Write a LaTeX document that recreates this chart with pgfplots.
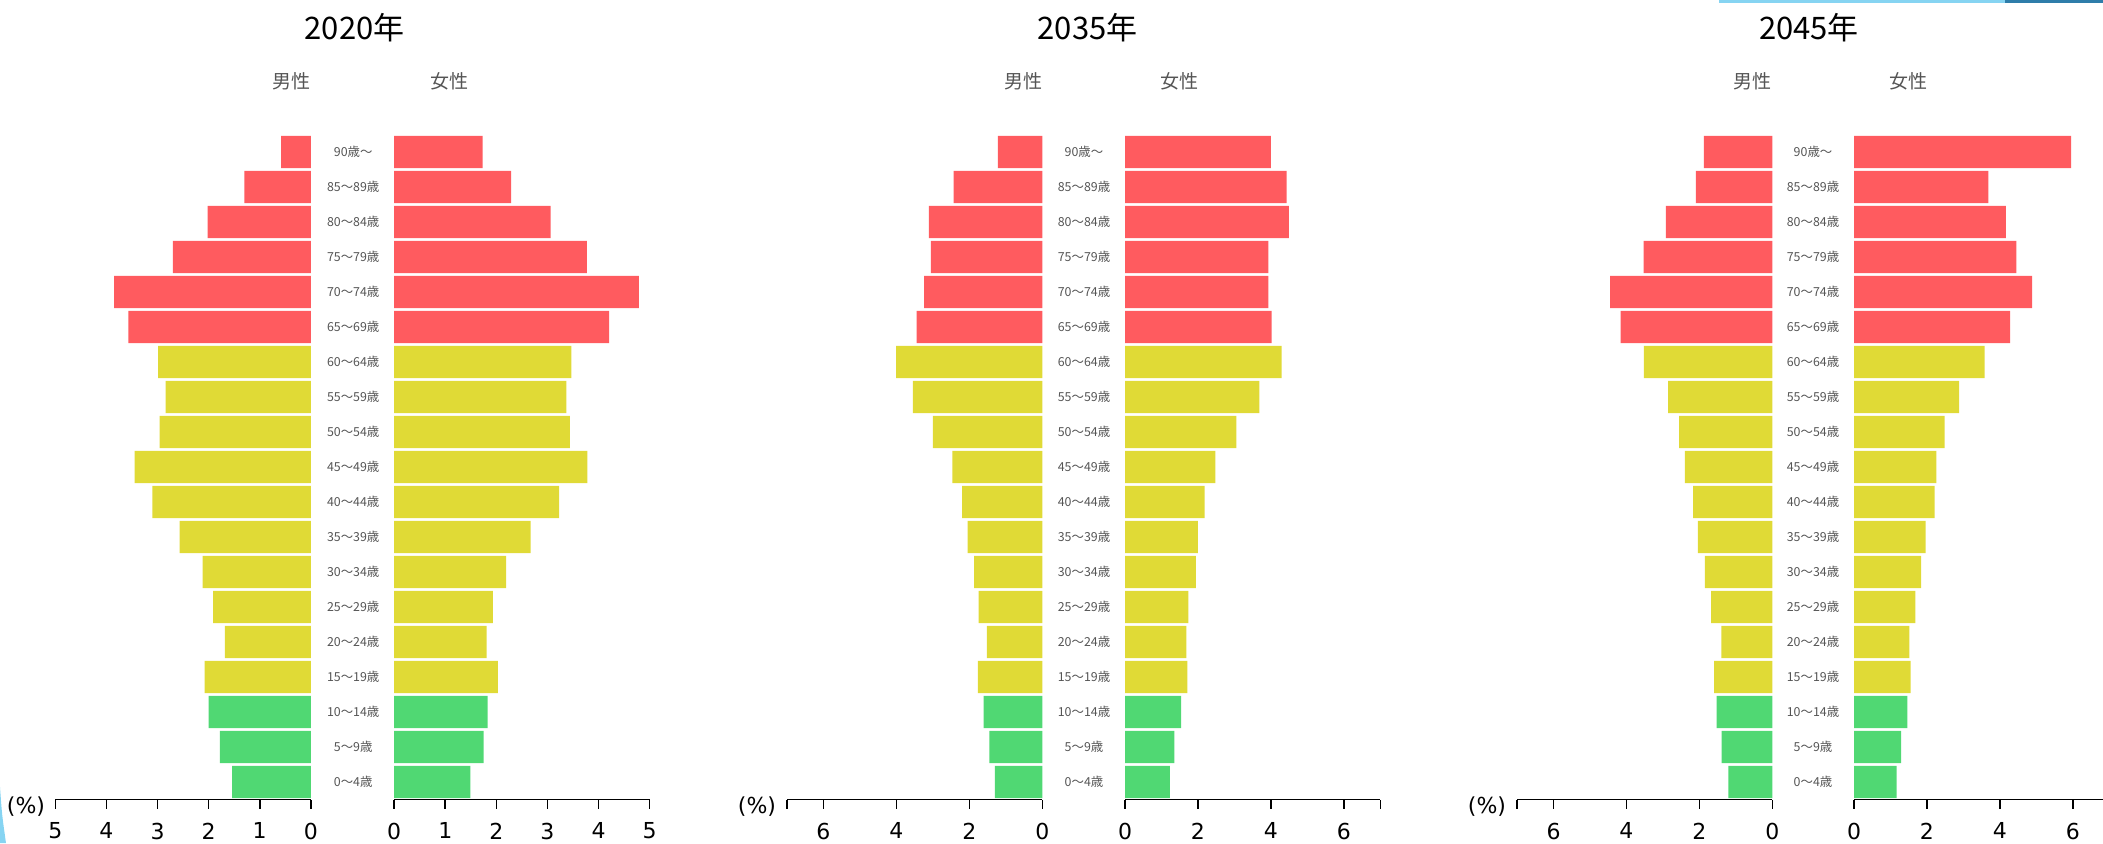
\documentclass[border=0pt]{standalone}
\usepackage{fontspec}
\setmainfont{DejaVu Sans}
\newfontfamily\jp{Noto Sans CJK JP}
\usepackage{pgfplots}
\pgfplotsset{compat=1.18}
\usepackage{pgfplotstable}

\definecolor{old}{HTML}{FF5B5F}
\definecolor{work}{HTML}{E0DA36}
\definecolor{young}{HTML}{50D873}
\definecolor{lab}{HTML}{555555}
\definecolor{skyA}{HTML}{86D4F2}
\definecolor{skyB}{HTML}{2E7DAA}

% share of total population (%) by age group; idx 0 = 0-4, 18 = 90+
\pgfplotstableread{
idx m20  f20  m35  f35  m45  f45
0   1.54 1.49 1.30 1.23 1.21 1.17
1   1.78 1.75 1.45 1.35 1.39 1.29
2   2.00 1.83 1.61 1.54 1.53 1.46
}\young
\pgfplotstableread{
idx m20  f20  m35  f35  m45  f45
3   2.08 2.03 1.77 1.71 1.60 1.55
4   1.68 1.81 1.52 1.68 1.40 1.52
5   1.91 1.93 1.75 1.74 1.68 1.68
6   2.12 2.19 1.87 1.94 1.85 1.84
7   2.57 2.67 2.05 2.00 2.04 1.96
8   3.10 3.23 2.20 2.18 2.17 2.21
9   3.45 3.78 2.47 2.48 2.40 2.26
10  2.96 3.44 3.00 3.05 2.56 2.48
11  2.84 3.37 3.55 3.68 2.86 2.88
12  2.99 3.47 4.01 4.29 3.52 3.58
}\work
\pgfplotstableread{
idx m20  f20  m35  f35  m45  f45
13  3.57 4.21 3.45 4.02 4.16 4.28
14  3.85 4.79 3.24 3.93 4.45 4.88
15  2.70 3.77 3.06 3.93 3.53 4.45
16  2.02 3.06 3.11 4.49 2.92 4.16
17  1.30 2.29 2.43 4.43 2.10 3.68
18  0.58 1.73 1.22 4.00 1.88 5.95
}\old

\pgfplotsset{
  pyr/.style={
    scale only axis, width=127.7pt, height=332.5pt,
    anchor=south west,
    xbar, bar width=16.15pt,
    ymin=-0.5, ymax=18.5, xmin=0,
    axis x line*=bottom,
    x axis line style={line width=0.8pt,-},
    major tick length=4.5pt, tick align=outside,
    xtick style={line width=0.8pt, black},
    /pgf/number format/assume math mode=true,
    xticklabel style={font=\fontsize{11}{11}\selectfont, text=black, inner sep=0pt, anchor=north, yshift=-7pt},
    clip=false,
  },
  side/.style={axis y line=none, ytick=\empty},
  ages/.style={
    axis y line*=left, y axis line style={draw=none},
    ytick={0,...,18}, ytick style={draw=none},
    yticklabels={0～4歳,5～9歳,10～14歳,15～19歳,20～24歳,25～29歳,30～34歳,35～39歳,40～44歳,45～49歳,50～54歳,55～59歳,60～64歳,65～69歳,70～74歳,75～79歳,80～84歳,85～89歳,90歳～},
    yticklabel style={anchor=center, xshift=-16pt, font=\jp\fontsize{6.2}{6.2}\selectfont, text=lab},
  },
  bars/.style={draw=none, bar shift=0pt},
}

\begin{document}
\begin{tikzpicture}
% ---- 2020 ----
\begin{axis}[pyr, side, at={(27.7pt,21.75pt)}, x dir=reverse, xmax=5, xtick={0,...,5}]
  \addplot[bars, fill=young] table[x=m20,y=idx]{\young};
  \addplot[bars, fill=work]  table[x=m20,y=idx]{\work};
  \addplot[bars, fill=old]   table[x=m20,y=idx]{\old};
\end{axis}
\begin{axis}[pyr, ages, at={(197.1pt,21.75pt)}, xmax=5, xtick={0,...,5}]
  \addplot[bars, fill=young] table[x=f20,y=idx]{\young};
  \addplot[bars, fill=work]  table[x=f20,y=idx]{\work};
  \addplot[bars, fill=old]   table[x=f20,y=idx]{\old};
\end{axis}
% ---- 2035 ----
\begin{axis}[pyr, side, at={(393.5pt,21.75pt)}, x dir=reverse, xmax=7, xtick={0,2,4,6,7}, xticklabels={0,2,4,6,{}}]
  \addplot[bars, fill=young] table[x=m35,y=idx]{\young};
  \addplot[bars, fill=work]  table[x=m35,y=idx]{\work};
  \addplot[bars, fill=old]   table[x=m35,y=idx]{\old};
\end{axis}
\begin{axis}[pyr, ages, at={(562.5pt,21.75pt)}, xmax=7, xtick={0,2,4,6,7}, xticklabels={0,2,4,6,{}}]
  \addplot[bars, fill=young] table[x=f35,y=idx]{\young};
  \addplot[bars, fill=work]  table[x=f35,y=idx]{\work};
  \addplot[bars, fill=old]   table[x=f35,y=idx]{\old};
\end{axis}
% ---- 2045 ----
\begin{axis}[pyr, side, at={(758.5pt,21.75pt)}, x dir=reverse, xmax=7, xtick={0,2,4,6,7}, xticklabels={0,2,4,6,{}}]
  \addplot[bars, fill=young] table[x=m45,y=idx]{\young};
  \addplot[bars, fill=work]  table[x=m45,y=idx]{\work};
  \addplot[bars, fill=old]   table[x=m45,y=idx]{\old};
\end{axis}
\begin{axis}[pyr, ages, at={(927pt,21.75pt)}, xmax=7, xtick={0,2,4,6,7}, xticklabels={0,2,4,6,{}}]
  \addplot[bars, fill=young] table[x=f45,y=idx]{\young};
  \addplot[bars, fill=work]  table[x=f45,y=idx]{\work};
  \addplot[bars, fill=old]   table[x=f45,y=idx]{\old};
\end{axis}

% titles and side headings
\foreach \cx/\yr in {177.25/2020, 543.75/2035, 904.5/2045}
  \node[font=\jp\fontsize{15.5}{15.5}\selectfont, text=black, inner sep=0pt] at (\cx pt,407.5pt) {\yr 年};
\foreach \mx/\fx in {155.6/214.85, 521.2/580.25, 885.7/944.75}{
  \node[font=\jp\fontsize{9.5}{9.5}\selectfont, text=lab, inner sep=0pt, anchor=east] at (\mx pt,381pt) {男性};
  \node[font=\jp\fontsize{9.5}{9.5}\selectfont, text=lab, inner sep=0pt, anchor=west] at (\fx pt,381pt) {女性};
}
\foreach \px in {13, 378.5, 743.5}
  \node[font=\fontsize{11}{11}\selectfont, inner sep=0pt] at (\px pt,18pt) {(\%)};

% slide frame pieces at the edges
\fill[skyA] (859.5pt,421.5pt) rectangle (1002.5pt,420pt);
\fill[skyB] (1002.5pt,421.5pt) rectangle (1051.5pt,420pt);
\fill[skyA] (0pt,0pt) -- (0pt,28pt) .. controls (1pt,14pt) .. (3pt,0pt) -- cycle;

\pgfresetboundingbox
\useasboundingbox (0pt,0pt) rectangle (1051.5pt,421.5pt);
\end{tikzpicture}
\end{document}
